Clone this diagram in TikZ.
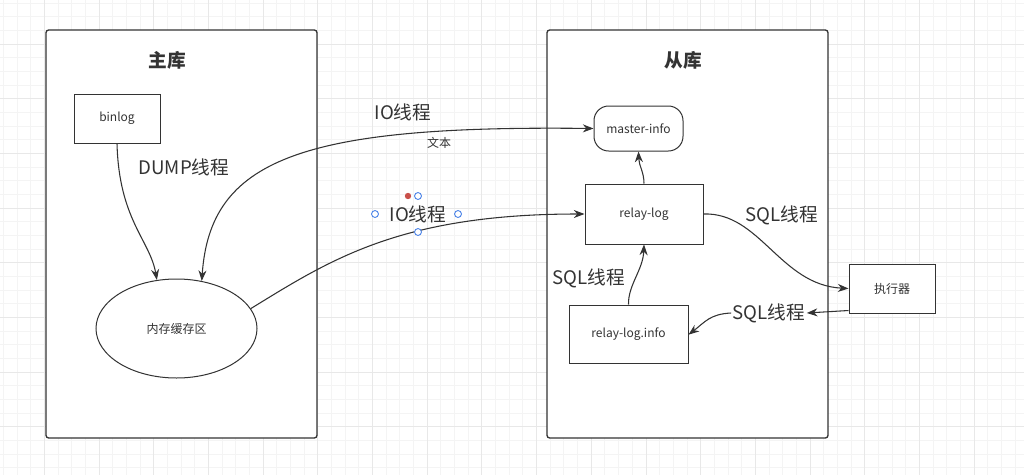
\documentclass[tikz,border=0pt]{standalone}
\usepackage{fontspec}
\setmainfont{Noto Sans CJK SC}
\usetikzlibrary{arrows.meta,calc,shapes.geometric}
\definecolor{ink}{HTML}{333333}
\definecolor{gridminor}{HTML}{F4F4F4}
\definecolor{gridmajor}{HTML}{E8E8E8}
\definecolor{selblue}{HTML}{4F86E8}
\definecolor{selred}{HTML}{C9504A}
\tikzset{
  container/.style={draw=ink, line width=1pt, fill=white, rounded corners=2pt, inner sep=0pt},
  boxnode/.style={draw=ink, line width=0.75pt, fill=white, inner sep=0pt, font=\fontsize{9}{11}\selectfont, text=ink},
  bigtext/.style={font=\fontsize{14}{16}\selectfont, text=ink, inner sep=1pt},
  smalltext/.style={font=\fontsize{9}{11}\selectfont, text=ink, inner sep=1pt},
  titletext/.style={font=\fontsize{14}{16}\selectfont\bfseries, text=ink},
  conn/.style={draw=ink, line width=0.8pt, -{Stealth[length=8pt,width=6pt]}},
  handle/.style={draw=selblue, line width=0.7pt, fill=white},
}
\begin{document}
\begin{tikzpicture}[x=0.75pt,y=-0.75pt]
\useasboundingbox (0,0) rectangle (1024,475);
\fill[white] (0,0) rectangle (1024,475);
% background grid
\foreach \i in {0,...,74} \draw[gridminor, line width=0.6pt] ({3.41+\i*13.67},0) -- ({3.41+\i*13.67},475);
\foreach \i in {0,...,34} \draw[gridminor, line width=0.6pt] (0,{2.93+\i*13.67}) -- (1024,{2.93+\i*13.67});
\foreach \i in {3,7,...,74} \draw[gridmajor, line width=0.6pt] ({3.41+\i*13.67},0) -- ({3.41+\i*13.67},475);
\foreach \i in {3,7,...,34} \draw[gridmajor, line width=0.6pt] (0,{2.93+\i*13.67}) -- (1024,{2.93+\i*13.67});

% containers
\node[container, minimum width=203.25pt, minimum height=306pt] (master) at (181.5,234) {};
\node[container, minimum width=210.75pt, minimum height=306pt] (slave) at (687.5,234) {};
\node[titletext] (mtitle) at (167,60) {主库};
\node[titletext] (stitle) at (683,60) {从库};

% nodes
\node[boxnode, minimum width=64.5pt, minimum height=36.75pt] (binlog) at (117,118.5) {binlog};
\node[boxnode, ellipse, minimum width=120.75pt, minimum height=74.25pt] (buf) at (176.5,328.5) {内存缓存区};
\node[boxnode, rounded corners=11pt, minimum width=66.75pt, minimum height=33.75pt] (minfo) at (638.5,128.5) {master-info};
\node[boxnode, minimum width=88.5pt, minimum height=45pt] (relay) at (644,214) {relay-log};
\node[boxnode, minimum width=89.25pt, minimum height=43.5pt] (rinfo) at (628.5,334) {relay-log.info};
\node[boxnode, minimum width=64.5pt, minimum height=36.75pt] (exe) at (892,288.5) {执行器};

% labels
\node[bigtext] (dump) at (184,167) {DUMP线程};
\node[bigtext] (io1) at (403,112) {IO线程};
\node[smalltext] (txt) at (439,143) {文本};
\node[bigtext] (io2) at (418,214) {IO线程};
\node[bigtext] (sql1) at (782,215) {SQL线程};
\node[bigtext] (sql2) at (589,278) {SQL线程};
\node[bigtext, fill=white] (sql3) at (769,313) {SQL线程};

% selection handles around io2
\draw[handle] (375,214) circle (2.6pt);
\draw[handle] (458,214) circle (2.6pt);
\draw[handle] (418,196) circle (2.6pt);
\fill[selred] (408,196) circle (2.4pt);

% connectors
\draw[conn] (binlog.south) .. controls (119,220) and (150,240) .. (buf.112);
\draw[conn, {Stealth[length=8pt,width=6pt]}-{Stealth[length=8pt,width=6pt]}] (buf.62) .. controls (210,160) and (300,125) .. (minfo.west);
\draw[conn] (buf.15) .. controls (330,260) and (400,214) .. (relay.west);
\draw[handle] (418,232) circle (2.6pt);
\draw[conn] (relay.north) .. controls (644,172) and (639,166) .. (minfo.south);
\draw[conn] (rinfo.north) .. controls (628,285) and (643,270) .. (relay.south);
\draw[conn] (relay.east) .. controls (760,212) and (780,285) .. (exe.west);
\draw[conn] ([yshift=2.25pt]exe.south west) -- (sql3.east);
\draw[conn] (sql3.west) .. controls (710,314) and (705,322) .. ([yshift=-0.5pt]rinfo.east);
\end{tikzpicture}
\end{document}
